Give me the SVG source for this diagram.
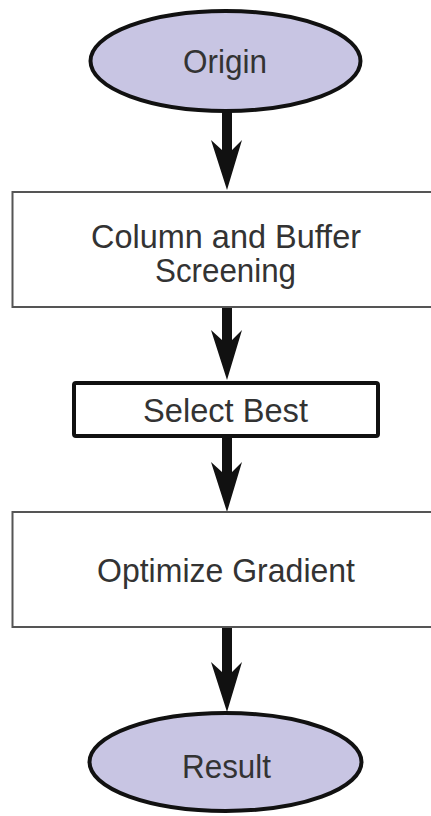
<svg xmlns="http://www.w3.org/2000/svg" width="431" height="816" viewBox="0 0 431 816">
<style>
.term{fill:#c8c5e3;stroke:#111;stroke-width:4}
.box{fill:#fff;stroke:#555;stroke-width:2}
.boxb{fill:#fff;stroke:#111;stroke-width:4}
.lbl{font-family:"Liberation Sans",Arial,sans-serif;font-size:33px;fill:#333;text-anchor:middle}
.shaft{stroke:#111;stroke-width:10;fill:none}
.head{fill:#111}
</style>
<rect width="431" height="816" fill="#fff"/>
<g id="connectors">
<line class="shaft" x1="227" y1="112" x2="227" y2="152"/>
<path class="head" d="M227,190 L242,140 L232,150 L222,150 L211,140 Z"/>
<line class="shaft" x1="227" y1="308" x2="227" y2="342"/>
<path class="head" d="M227,380 L242,330 L232,340 L222,340 L211,330 Z"/>
<line class="shaft" x1="227" y1="437" x2="227" y2="474"/>
<path class="head" d="M227,512 L242,462 L232,472 L222,472 L211,462 Z"/>
<line class="shaft" x1="227" y1="628" x2="227" y2="674"/>
<path class="head" d="M227,712 L242,662 L232,672 L222,672 L211,662 Z"/>
</g>
<g id="origin">
<ellipse class="term" cx="225.5" cy="61" rx="135" ry="50"/>
<text class="lbl" x="225" y="73" textLength="84" lengthAdjust="spacingAndGlyphs">Origin</text>
</g>
<g id="screening">
<rect class="box" x="12.5" y="192" width="440" height="115"/>
<text class="lbl" x="226" y="248" textLength="270" lengthAdjust="spacingAndGlyphs">Column and Buffer</text>
<text class="lbl" x="225.5" y="282" textLength="141" lengthAdjust="spacingAndGlyphs">Screening</text>
</g>
<g id="select">
<rect class="boxb" x="74" y="383" width="304" height="53" rx="2"/>
<text class="lbl" x="225.5" y="422" textLength="165" lengthAdjust="spacingAndGlyphs">Select Best</text>
</g>
<g id="optimize">
<rect class="box" x="12.5" y="512" width="440" height="115"/>
<text class="lbl" x="226" y="582" textLength="258" lengthAdjust="spacingAndGlyphs">Optimize Gradient</text>
</g>
<g id="result">
<ellipse class="term" cx="225.5" cy="762" rx="136" ry="49"/>
<text class="lbl" x="226.5" y="778" textLength="89" lengthAdjust="spacingAndGlyphs">Result</text>
</g>
</svg>
